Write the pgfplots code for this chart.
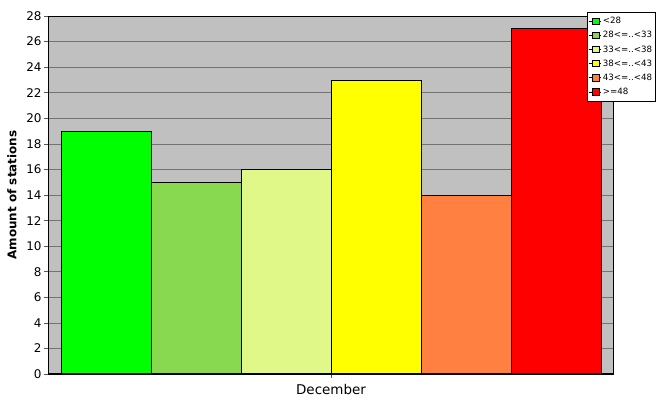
\documentclass[border=0pt]{standalone}
\usepackage{pgfplots}
\pgfplotsset{compat=1.18}
\usepackage{fontspec}
\setmainfont{DejaVu Sans}

\definecolor{cA}{RGB}{0,255,0}
\definecolor{cB}{RGB}{136,216,80}
\definecolor{cC}{RGB}{224,248,136}
\definecolor{cD}{RGB}{255,255,0}
\definecolor{cE}{RGB}{255,128,64}
\definecolor{cF}{RGB}{255,0,0}
\definecolor{plotbg}{RGB}{192,192,192}

\begin{document}
\begin{tikzpicture}
\useasboundingbox (0,0) rectangle (667bp,415bp);
\begin{axis}[
    at={(48bp,41bp)}, anchor=origin,
    scale only axis,
    width=565bp, height=358bp,
    xmin=0, xmax=565,
    ymin=0, ymax=28,
    ytick={0,2,...,28},
    xtick={283}, xticklabels={December},
    xtick pos=bottom, ytick pos=left,
    axis background/.style={fill=plotbg},
    ymajorgrids=true,
    grid style={gray!90!black, line width=0.6pt},
    axis line style={line width=0.6pt},
    tick align=outside,
    major tick length=4bp,
    tick style={gray!70!black, line width=0.6pt},
    yticklabel style={font=\fontsize{12}{13}\selectfont, xshift=1bp},
    xticklabel style={font=\fontsize{13.5}{14}\selectfont, yshift=-3bp},
    /pgf/number format/assume math mode=true,
    ylabel={\bfseries Amount of stations},
    ylabel style={font=\fontsize{12}{13}\selectfont, at={(rel axis cs:0,0.5)}, anchor=center, yshift=36bp},
    ybar, bar width=90, bar shift=0pt,
    legend style={at={(rel axis cs:0.954,1.011)}, anchor=north west,
        font=\fontsize{8.7}{9}\selectfont, draw=black, line width=0.6pt,
        row sep=2.2bp, inner xsep=1bp, inner ysep=3bp, cells={anchor=west}},
    legend image code/.code={\path (0bp,0bp) -- (12bp,0bp);
        \draw[#1, line width=0.4pt] (4bp,-3bp) rectangle (10.5bp,3.5bp);},
]
\addplot[fill=cA, draw=black, line width=0.6pt] coordinates {(58,19)};
\addplot[fill=cB, draw=black, line width=0.6pt] coordinates {(148,15)};
\addplot[fill=cC, draw=black, line width=0.6pt] coordinates {(238,16)};
\addplot[fill=cD, draw=black, line width=0.6pt] coordinates {(328,23)};
\addplot[fill=cE, draw=black, line width=0.6pt] coordinates {(418,14)};
\addplot[fill=cF, draw=black, line width=0.6pt] coordinates {(508,27)};
\legend{<28, 28<=..<33, 33<=..<38, 38<=..<43, 43<=..<48, >=48}
\draw[line width=1.6pt] (rel axis cs:0,1) -- (rel axis cs:0,0) -- (rel axis cs:1,0);
\end{axis}
\end{tikzpicture}
\end{document}
